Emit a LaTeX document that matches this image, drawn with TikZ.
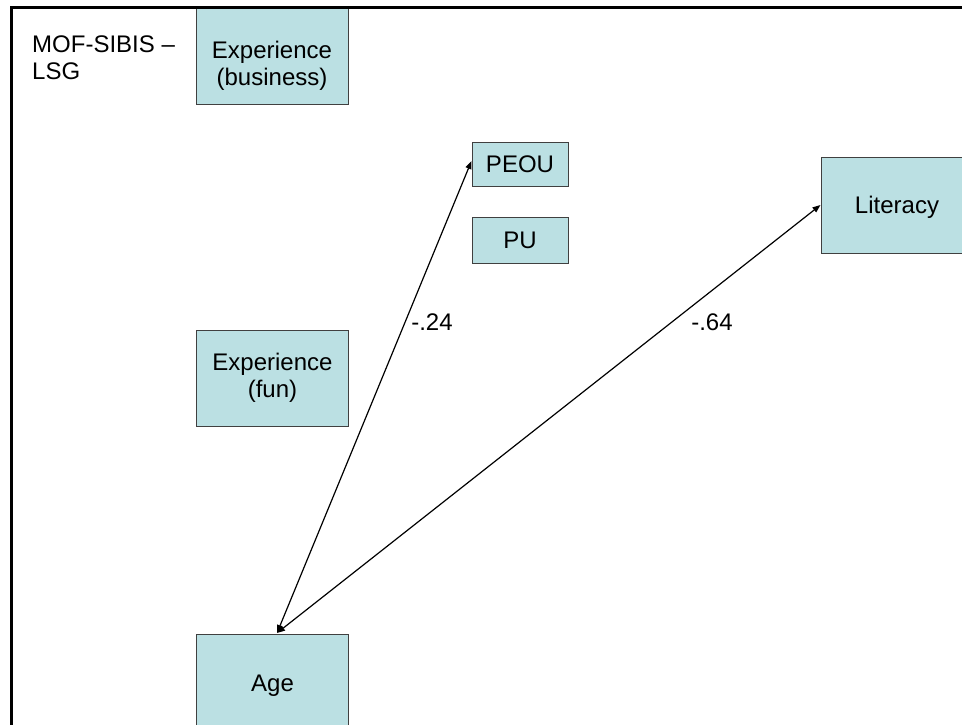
\documentclass[tikz,border=0pt]{standalone}
\usepackage{fontspec}
\setmainfont{Liberation Sans}
\usetikzlibrary{arrows.meta}
\definecolor{boxfill}{HTML}{BBE0E3}
\definecolor{boxline}{HTML}{404040}
\tikzset{
  varbox/.style={draw=boxline, line width=1pt, fill=boxfill, inner sep=0pt,
    align=center, font=\fontsize{24}{27}\selectfont},
  wide/.style={minimum width=152pt, minimum height=96pt},
  small/.style={minimum width=96pt, minimum height=45pt},
  corr/.style={line width=1.2pt, {Triangle[length=8pt,width=6pt]}-{Triangle[length=8pt,width=6pt]}},
  plaintext/.style={inner sep=0pt, align=center, font=\fontsize{24}{27}\selectfont},
  frameline/.style={line width=3pt}
}
\begin{document}
\begin{tikzpicture}[x=1pt,y=-1pt]
  \useasboundingbox (0,0) rectangle (962,725);
  \clip (0,0) rectangle (962,725);
  \fill[white] (0,0) rectangle (962,725);

  % variables
  \node[varbox, wide] (expb) at (272,57) {};
  \node[plaintext] (expbtext) at (272,66) {Experience\\(business)};
  \node[varbox, wide] (expf) at (272.5,378) {Experience\\(fun)};
  \node[varbox, wide, text height=24pt, text depth=5pt] (age) at (272.5,682) {Age};
  \node[varbox, small, minimum height=44pt] (peou) at (520,164) {PEOU};
  \node[varbox, small, minimum height=46pt] (pu) at (520,240) {PU};
  \node[varbox, wide, text height=21pt, text depth=5pt] (lit) at (897,205) {Literacy};

  % title
  \node[plaintext, anchor=base west, align=left] (title) at (32,80) {MOF-SIBIS –\\LSG};

  % correlations
  \coordinate (agetip) at (277,633);
  \draw[corr] (agetip) -- ([yshift=3pt]peou.west);
  \draw[corr] (agetip) -- (lit.west);
  \node[plaintext] (r1) at (432,322) {-.24};
  \node[plaintext] (r2) at (712,322) {-.64};

  % frame
  \draw[frameline] (11,725) -- (11,7.5) -- (962,7.5);
\end{tikzpicture}
\end{document}
